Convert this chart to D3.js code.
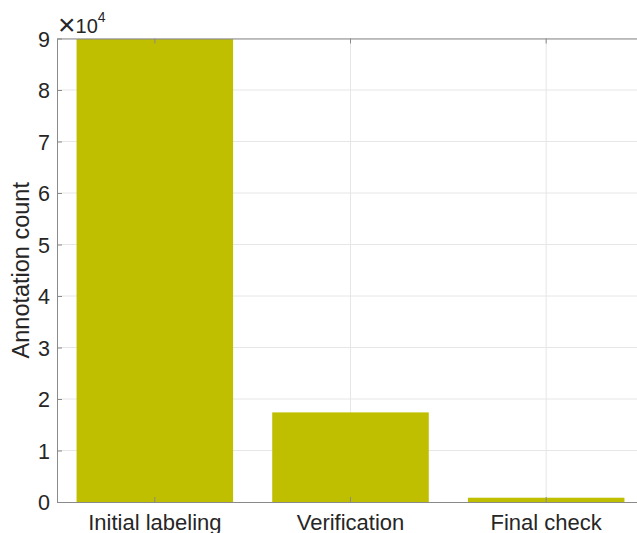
<!DOCTYPE html>
<meta charset="utf-8">
<style>
body { margin: 0; background: #fff; }
text { font-family: "Liberation Sans", Arial, Helvetica, sans-serif; fill: #262626; }
.grid line { stroke: #e6e6e6; stroke-width: 1px; }
.axis path, .axis line { stroke: #8a8a8a; stroke-width: 1px; }
</style>
<body>
<script src="https://cdn.jsdelivr.net/npm/d3@7"></script>
<script>

var categories = ["Initial labeling", "Verification", "Final check"];
var counts = [89900, 17400, 830];
var yTicks = [0, 1, 2, 3, 4, 5, 6, 7, 8, 9];
var yLabel = "Annotation count";

var width = 637, height = 533,
    plotL = 57, plotT = 38.5, plotR = 644, plotB = 502;

var svg = d3.select("body").append("svg")
    .attr("width", width)
    .attr("height", height);

var x = d3.scaleBand()
    .domain(categories)
    .range([plotL, plotR])
    .paddingInner(0.2)
    .paddingOuter(0.1);

var y = d3.scaleLinear()
    .domain([0, 90000])
    .range([plotB, plotT]);

// grid
var grid = svg.append("g").attr("class", "grid");
grid.selectAll(".h").data(yTicks.slice(1)).enter().append("line")
  .attr("x1", plotL).attr("x2", plotR)
  .attr("y1", function(d){ return y(d * 1e4); })
  .attr("y2", function(d){ return y(d * 1e4); });
grid.selectAll(".v").data(categories).enter().append("line")
  .attr("x1", function(d){ return x(d) + x.bandwidth() / 2; })
  .attr("x2", function(d){ return x(d) + x.bandwidth() / 2; })
  .attr("y1", plotT).attr("y2", plotB);

// bars
svg.selectAll(".bar").data(counts).enter().append("rect")
  .attr("x", function(d, i){ return x(categories[i]); })
  .attr("width", x.bandwidth())
  .attr("y", function(d){ return y(d); })
  .attr("height", function(d){ return plotB - y(d); })
  .attr("fill", "#bfbf00");

// axes
var yAxis = d3.axisLeft(y)
    .tickValues(yTicks.map(function(d){ return d * 1e4; }))
    .tickFormat(function(d){ return d / 1e4; })
    .tickSizeInner(-5).tickSizeOuter(0).tickPadding(7);
svg.append("g").attr("class", "axis")
  .attr("transform", "translate(" + plotL + ",0)")
  .call(yAxis)
  .call(function(g){ g.selectAll("text").style("font-size", "21.5px").attr("dy", "0.36em"); });

var xAxis = d3.axisBottom(x).tickSizeInner(-5).tickSizeOuter(0).tickPadding(12);
svg.append("g").attr("class", "axis")
  .attr("transform", "translate(0," + plotB + ")")
  .call(xAxis)
  .call(function(g){ g.selectAll("text").style("font-size", "22px"); });

var xTop = d3.axisTop(x).tickSizeInner(-5).tickSizeOuter(0).tickFormat("");
svg.append("g").attr("class", "axis")
  .attr("transform", "translate(0," + plotT + ")")
  .call(xTop);

// exponent
var ex = svg.append("text")
  .attr("x", plotL + 1)
  .attr("y", 33)
  .style("font-size", "20px");
ex.append("tspan").attr("dy", 2).style("font-size", "30px").style("font-weight", "300").text("\u00d7");
ex.append("tspan").attr("dy", -2).text("10");
ex.append("tspan").attr("dy", -11).style("font-size", "14px").text("4");

// y label
svg.append("text")
  .attr("transform", "translate(29," + ((plotT + plotB) / 2) + ") rotate(-90)")
  .attr("text-anchor", "middle")
  .style("font-size", "23.5px")
  .text(yLabel);

</script>
